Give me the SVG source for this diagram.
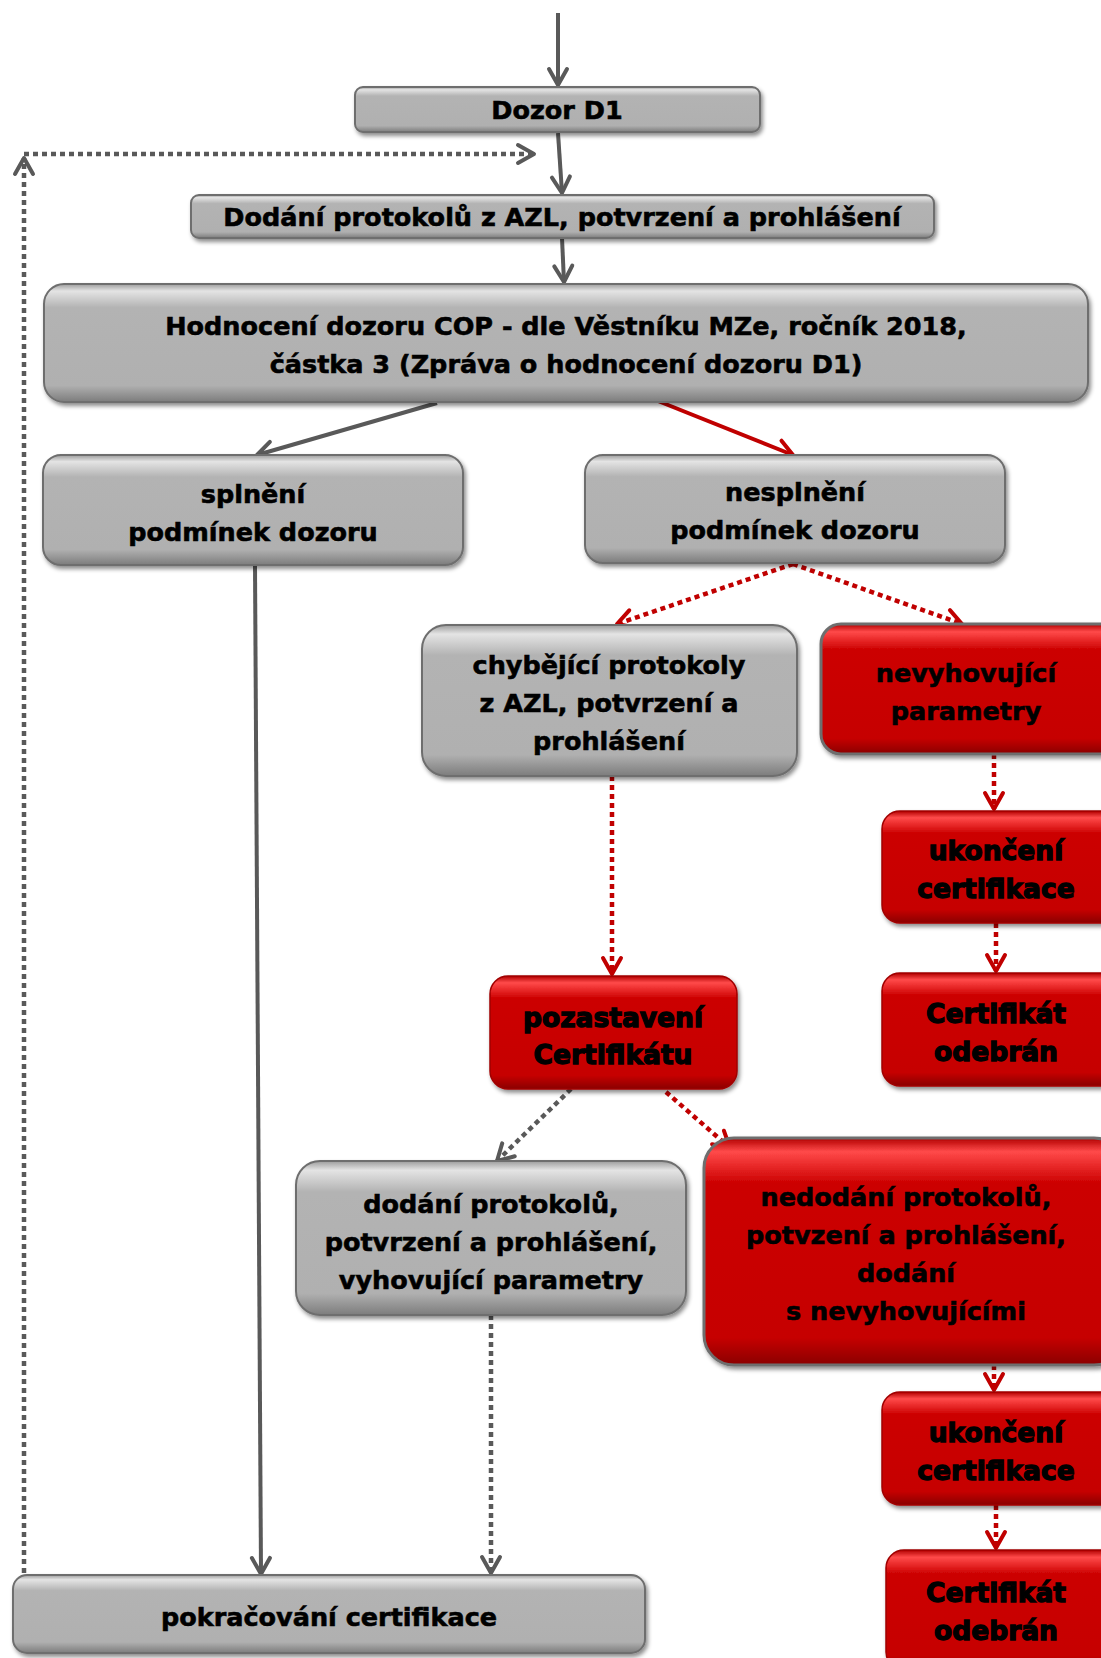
<svg xmlns="http://www.w3.org/2000/svg" width="1101" height="1658" viewBox="0 0 1101 1658">
<defs>
<linearGradient id="gGray" x1="0" y1="0" x2="0" y2="1">
<stop offset="0" stop-color="#9c9c9c"/>
<stop offset="0.06" stop-color="#e4e4e4"/>
<stop offset="0.2" stop-color="#b3b3b3"/>
<stop offset="0.86" stop-color="#b0b0b0"/>
<stop offset="1" stop-color="#7c7c7c"/>
</linearGradient>
<linearGradient id="gRed" x1="0" y1="0" x2="0" y2="1">
<stop offset="0" stop-color="#b00000"/>
<stop offset="0.06" stop-color="#ff4a4a"/>
<stop offset="0.2" stop-color="#cc0000"/>
<stop offset="0.88" stop-color="#c60000"/>
<stop offset="1" stop-color="#8a0000"/>
</linearGradient>
<filter id="sh" x="-10%" y="-10%" width="120%" height="130%">
<feDropShadow dx="2" dy="3" stdDeviation="2" flood-color="#000" flood-opacity="0.45"/>
</filter>
<marker id="aG" viewBox="0 0 24 24" refX="21" refY="12" markerWidth="24" markerHeight="24" markerUnits="userSpaceOnUse" orient="auto">
<path d="M5,3 L21,12 L5,21" fill="none" stroke="#595959" stroke-width="4" stroke-linecap="round" stroke-linejoin="round" stroke-dasharray="none"/>
</marker>
<marker id="aR" viewBox="0 0 24 24" refX="21" refY="12" markerWidth="24" markerHeight="24" markerUnits="userSpaceOnUse" orient="auto">
<path d="M5,3 L21,12 L5,21" fill="none" stroke="#c00000" stroke-width="4" stroke-linecap="round" stroke-linejoin="round" stroke-dasharray="none"/>
</marker>
<style>
.gray{fill:url(#gGray);stroke:#6e6e6e;stroke-width:2;filter:url(#sh)}
.red{fill:url(#gRed);stroke:#a00000;stroke-width:1.5;filter:url(#sh)}
.redb{fill:url(#gRed);stroke:#6e6e6e;stroke-width:3;filter:url(#sh)}
.t{font-family:"DejaVu Sans",Verdana,sans-serif;font-weight:bold;font-size:25.5px;fill:#000;stroke:#000;stroke-width:0.6;text-anchor:middle}
.tb{font-family:"DejaVu Sans",Verdana,sans-serif;font-weight:bold;font-size:26.5px;fill:#000;stroke:#000;stroke-width:1.3;text-anchor:middle}
.lg{fill:none;stroke:#595959;stroke-width:4}
.lr{fill:none;stroke:#c00000;stroke-width:4}
.dg{fill:none;stroke:#595959;stroke-width:4.5;stroke-dasharray:5 4}
.dr{fill:none;stroke:#c00000;stroke-width:4.5;stroke-dasharray:5 4}
</style>
</defs>

<g id="connectors">
<path class="lg" d="M558,13 L558,85" marker-end="url(#aG)"/>
<path class="lg" d="M558,133 L562,193" marker-end="url(#aG)"/>
<path class="lg" d="M562,238 L564,282" marker-end="url(#aG)"/>
<path class="lg" d="M437,403 L257,455" marker-end="url(#aG)"/>
<path class="lr" d="M653,399 L793,455" marker-end="url(#aR)"/>
<path class="dr" d="M793,564 L617,624" marker-end="url(#aR)"/>
<path class="dr" d="M793,564 L962,624" marker-end="url(#aR)"/>
<path class="dr" d="M994,754 L994,809" marker-end="url(#aR)"/>
<path class="dr" d="M996,923 L996,971" marker-end="url(#aR)"/>
<path class="dr" d="M612,776 L612,974" marker-end="url(#aR)"/>
<path class="dg" d="M571,1089 L497,1161" marker-end="url(#aG)"/>
<path class="dr" d="M666,1092 L730,1148" marker-end="url(#aR)"/>
<path class="dr" d="M994,1365 L994,1390" marker-end="url(#aR)"/>
<path class="dr" d="M996,1505 L996,1548" marker-end="url(#aR)"/>
<path class="lg" d="M255,566 L261,1574" marker-end="url(#aG)"/>
<path class="dg" d="M491,1315 L491,1573" marker-end="url(#aG)"/>
<path class="dg" d="M24,1573 L24,158" marker-end="url(#aG)"/>
<path class="dg" d="M24,154 L534,154" marker-end="url(#aG)"/>
</g>

<g id="n-dozor">
<rect class="gray" x="355" y="87" width="405" height="45" rx="8"/>
<text class="t" x="557" y="119">Dozor D1</text>
</g>
<g id="n-dodani">
<rect class="gray" x="191" y="195" width="743" height="43" rx="8"/>
<text class="t" x="562" y="226">Dodání protokolů z AZL, potvrzení a prohlášení</text>
</g>
<g id="n-hodnoceni">
<rect class="gray" x="44" y="284" width="1044" height="118" rx="20"/>
<text class="t" x="566" y="335">Hodnocení dozoru COP - dle Věstníku MZe, ročník 2018,</text>
<text class="t" x="566" y="373">částka 3 (Zpráva o hodnocení dozoru D1)</text>
</g>
<g id="n-splneni">
<rect class="gray" x="43" y="455" width="420" height="110" rx="18"/>
<text class="t" x="253" y="503">splnění</text>
<text class="t" x="253" y="541">podmínek dozoru</text>
</g>
<g id="n-nesplneni">
<rect class="gray" x="585" y="455" width="420" height="108" rx="18"/>
<text class="t" x="795" y="501">nesplnění</text>
<text class="t" x="795" y="539">podmínek dozoru</text>
</g>
<g id="n-chybejici">
<rect class="gray" x="422" y="625" width="375" height="151" rx="24"/>
<text class="t" x="609" y="674">chybějící protokoly</text>
<text class="t" x="609" y="712">z AZL, potvrzení a</text>
<text class="t" x="609" y="750">prohlášení</text>
</g>
<g id="n-nevyhovujici">
<rect class="redb" x="821" y="624" width="300" height="130" rx="20"/>
<text class="t" x="966" y="682">nevyhovující</text>
<text class="t" x="966" y="720">parametry</text>
</g>
<g id="n-ukonceni1">
<rect class="red" x="882" y="811" width="240" height="112" rx="18"/>
<text class="tb" x="996" y="860">ukončení</text>
<text class="tb" x="996" y="898">certifikace</text>
</g>
<g id="n-odebran1">
<rect class="red" x="882" y="973" width="240" height="113" rx="18"/>
<text class="tb" x="996" y="1023">Certifikát</text>
<text class="tb" x="996" y="1061">odebrán</text>
</g>
<g id="n-pozastaveni">
<rect class="red" x="490" y="976" width="247" height="113" rx="18"/>
<text class="tb" x="613" y="1027">pozastavení</text>
<text class="tb" x="613" y="1064">Certifikátu</text>
</g>
<g id="n-dodani-vyhov">
<rect class="gray" x="296" y="1161" width="390" height="154" rx="24"/>
<text class="t" x="491" y="1213">dodání protokolů,</text>
<text class="t" x="491" y="1251">potvrzení a prohlášení,</text>
<text class="t" x="491" y="1289">vyhovující parametry</text>
</g>
<g id="n-nedodani">
<rect class="redb" x="704" y="1138" width="420" height="227" rx="30"/>
<text class="t" x="906" y="1206">nedodání protokolů,</text>
<text class="t" x="906" y="1244">potvzení a prohlášení,</text>
<text class="t" x="906" y="1282">dodání</text>
<text class="t" x="906" y="1320">s nevyhovujícími</text>
</g>
<g id="n-ukonceni2">
<rect class="red" x="882" y="1392" width="240" height="113" rx="18"/>
<text class="tb" x="996" y="1442">ukončení</text>
<text class="tb" x="996" y="1480">certifikace</text>
</g>
<g id="n-odebran2">
<rect class="red" x="886" y="1550" width="240" height="120" rx="18"/>
<text class="tb" x="996" y="1602">Certifikát</text>
<text class="tb" x="996" y="1640">odebrán</text>
</g>
<g id="n-pokracovani">
<rect class="gray" x="13" y="1575" width="632" height="78" rx="14"/>
<text class="t" x="329" y="1626">pokračování certifikace</text>
</g>
</svg>
